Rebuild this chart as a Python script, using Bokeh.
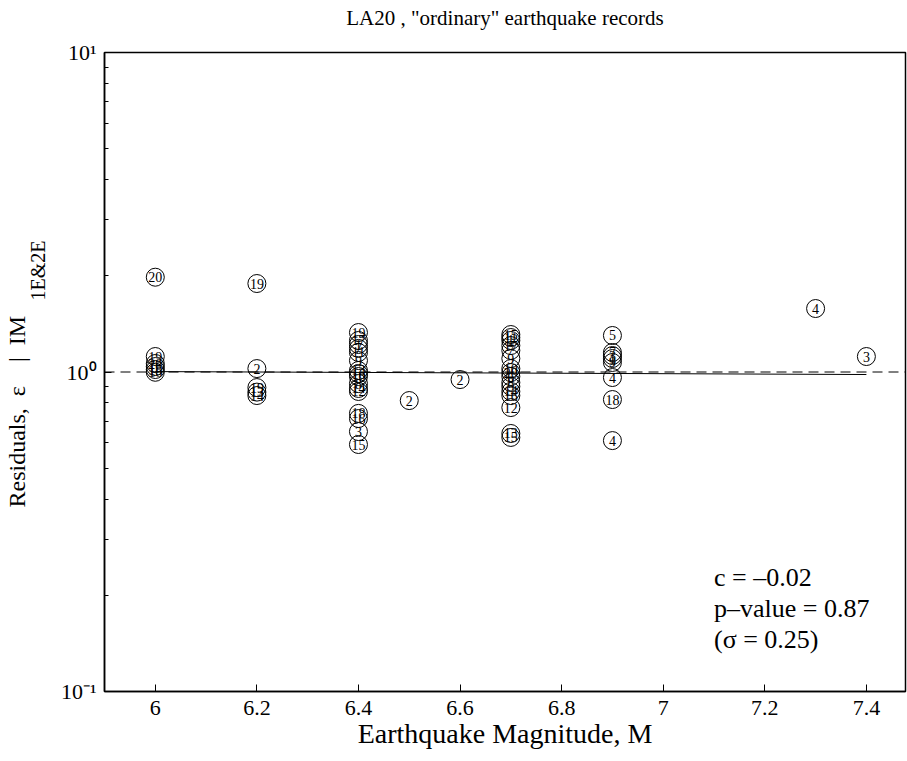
from bokeh.plotting import figure
from bokeh.models import Label, Span, FixedTicker, ColumnDataSource, Range1d, Title, LinearAxis
from bokeh.embed import file_html
from bokeh.resources import INLINE
from bokeh.core.properties import value

FONT = "Liberation Serif"

# ---- data ----
magnitude = [6.0, 6.0, 6.0, 6.0, 6.0, 6.0,
             6.2, 6.2, 6.2, 6.2, 6.2,
             6.4, 6.4, 6.4, 6.4, 6.4, 6.4, 6.4, 6.4, 6.4, 6.4, 6.4, 6.4, 6.4, 6.4, 6.4, 6.4,
             6.5, 6.6,
             6.7, 6.7, 6.7, 6.7, 6.7, 6.7, 6.7, 6.7, 6.7, 6.7, 6.7, 6.7, 6.7, 6.7, 6.7, 6.7,
             6.9, 6.9, 6.9, 6.9, 6.9, 6.9, 6.9, 6.9,
             7.3, 7.4]
residual = [1.98, 1.118, 1.063, 1.040, 1.018, 0.998,
            1.892, 1.025, 0.894, 0.865, 0.844,
            1.329, 1.255, 1.219, 1.185, 1.151, 1.086, 1.011, 0.989, 0.968, 0.920, 0.888, 0.869, 0.742, 0.715, 0.651, 0.593,
            0.814, 0.947,
            1.310, 1.282, 1.255, 1.210, 1.168, 1.102, 1.025, 0.996, 0.968, 0.927, 0.901, 0.869, 0.844, 0.774, 0.642, 0.624,
            1.301, 1.151, 1.126, 1.102, 1.071, 0.961, 0.820, 0.610,
            1.580, 1.118]
record_id = ["20", "19", "20", "16", "15", "16",
             "19", "2", "19", "13", "14",
             "19", "17", "1", "7", "11", "9", "13", "16", "10", "8", "14", "12", "18", "16", "3", "15",
             "2", "2",
             "15", "11", "1", "17", "7", "9", "10", "20", "6", "8", "5", "14", "16", "12", "13", "15",
             "5", "7", "3", "1", "9", "4", "18", "4",
             "4", "3"]

fit_magnitude = [6.0, 7.4]
fit_residual = [1.003, 0.982]
reference_level = 1.0

x_ticks = [6.0, 6.2, 6.4, 6.6, 6.8, 7.0, 7.2, 7.4]
x_tick_labels = ["6", "6.2", "6.4", "6.6", "6.8", "7", "7.2", "7.4"]
y_ticks = [0.1, 1.0, 10.0]
y_tick_labels = ["10\u207b\u00b9", "10\u2070", "10\u00b9"]
y_minor_ticks = [0.2, 0.3, 0.4, 0.5, 0.6, 0.7, 0.8, 0.9,
                 2.0, 3.0, 4.0, 5.0, 6.0, 7.0, 8.0, 9.0]

stats_lines = ["c = \u20130.02", "p\u2013value = 0.87", "(\u03c3 = 0.25)"]
stats_x = 7.1

title_text = 'LA20 , "ordinary" earthquake records'
x_label = "Earthquake Magnitude, M"
y_label_main = "Residuals,\u2002\u03b5\u2003|\u2002IM"
y_label_sub = "1E&2E"

# ---- figure ----
p = figure(width=907, height=760, output_backend="svg", toolbar_location=None,
           x_range=Range1d(5.9, 7.477), y_range=Range1d(0.1, 10), y_axis_type="log",
           min_border_left=104, min_border_right=2, min_border_top=52, min_border_bottom=69)
p.background_fill_color = "white"
p.border_fill_color = "white"
p.grid.visible = False
p.outline_line_color = "black"
p.outline_line_width = 1.5

xa = p.below[0]
xa.ticker = FixedTicker(ticks=x_ticks)
xa.major_label_overrides = {t: l for t, l in zip(x_ticks, x_tick_labels)}
xa.major_label_text_font = FONT
xa.major_label_text_font_size = "22px"
xa.major_label_text_color = "black"
xa.major_tick_in = 7
xa.major_tick_out = 0
xa.minor_tick_line_color = None
xa.major_label_standoff = 9
xa.axis_label = x_label
xa.axis_label_text_font = FONT
xa.axis_label_text_font_size = "28px"
xa.axis_label_text_font_style = "normal"
xa.axis_label_text_color = "black"
xa.axis_label_standoff = 0
xa.axis_line_color = "black"
xa.axis_line_width = 1.5

ya = p.left[0]
ya.ticker = FixedTicker(ticks=y_ticks, minor_ticks=y_minor_ticks)
ya.major_label_overrides = {t: l for t, l in zip(y_ticks, y_tick_labels)}
ya.major_label_text_font = FONT
ya.major_label_text_font_size = "22px"
ya.major_label_text_color = "black"
ya.major_label_standoff = 8
ya.major_tick_in = 7
ya.major_tick_out = 0
ya.minor_tick_in = 4
ya.minor_tick_out = 0
ya.axis_line_color = "black"
ya.axis_line_width = 1.5

# title drawn as the label of an empty axis above the plot
title_axis = LinearAxis(ticker=FixedTicker(ticks=[]), axis_label=title_text,
                        axis_line_color=None, major_tick_in=0, major_tick_out=0,
                        minor_tick_in=0, minor_tick_out=0, major_label_standoff=0,
                        axis_label_standoff=23, axis_label_text_font=FONT,
                        axis_label_text_font_size="21px", axis_label_text_font_style="normal",
                        axis_label_text_color="black")
p.add_layout(title_axis, "above")

# y axis label with subscript, as two titles in the left panel
sub_title = Title(text=y_label_sub, align="left", offset=391, standoff=17,
                  text_font=FONT, text_font_size="20px", text_font_style="normal",
                  text_color="black")
main_title = Title(text=y_label_main, align="left", offset=184, standoff=-27,
                   text_font=FONT, text_font_size="24px", text_font_style="normal",
                   text_color="black")
p.add_layout(sub_title, "left")
p.add_layout(main_title, "left")

# reference and fit lines
p.add_layout(Span(location=reference_level, dimension="width", line_color="black",
                  line_width=1, line_dash="10 6"))
p.line(fit_magnitude, fit_residual, line_color="black", line_width=1)

src = ColumnDataSource(dict(m=magnitude, r=residual, rec=record_id))
p.scatter("m", "r", source=src, marker="circle", size=18, fill_color=None,
          line_color="black", line_width=1)
p.text("m", "r", text="rec", source=src, text_align="center", text_baseline="middle",
       text_font=value(FONT), text_font_size="14px", text_color="black")

for line, ys in zip(stats_lines, [114, 83, 52]):
    p.add_layout(Label(x=stats_x, y=ys, x_units="data", y_units="screen", text=line,
                       text_align="left", text_baseline="middle",
                       text_font=FONT, text_font_size="26px", text_color="black"))

open("out.html", "w").write(file_html(p, INLINE))
